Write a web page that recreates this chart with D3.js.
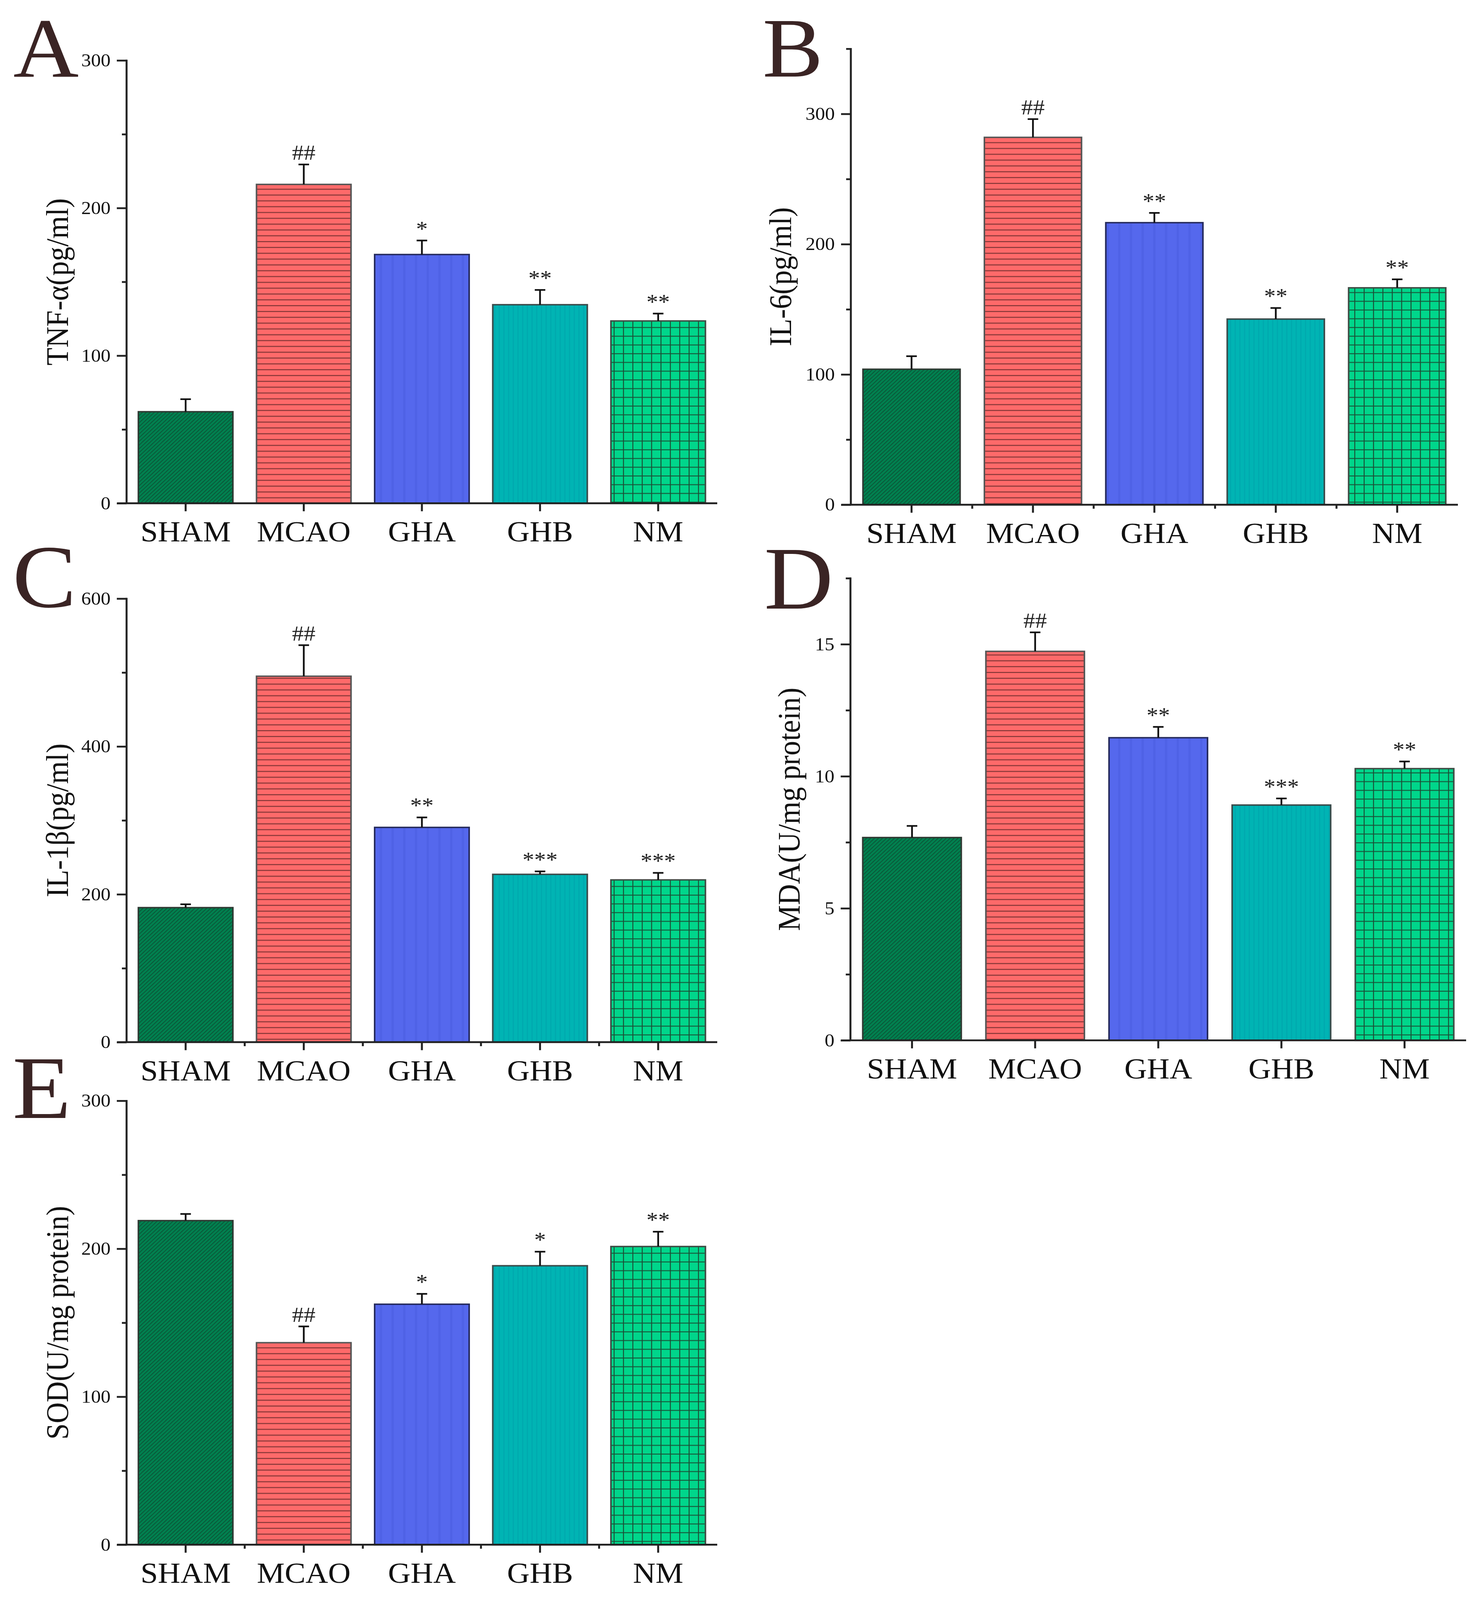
<!DOCTYPE html>
<html>
<head>
<meta charset="utf-8">
<script src="https://cdn.jsdelivr.net/npm/d3@7"></script>
<style>
  html, body { margin: 0; padding: 0; background: #fff; overflow: hidden; width: 100%; height: 100%; }
  svg { display: block; width: 100vw; height: 100vh; }
</style>
</head>
<body>
<svg id="chart" viewBox="0 0 3786 4397" preserveAspectRatio="none"></svg>
<script>
// ---------------- DATA ----------------
const categories = ["SHAM", "MCAO", "GHA", "GHB", "NM"];

const tnfMean = [62, 216, 168.5, 134.5, 123.5];
const tnfErr  = [8.5, 13.5, 9.5, 10, 5];
const tnfSig  = ["", "##", "*", "**", "**"];
const tnfTicks = [0, 100, 200, 300];
const tnfMinor = [50, 150, 250];

const il6Mean = [104, 282, 216.5, 142.5, 166.5];
const il6Err  = [10, 14, 7.5, 8.5, 6.5];
const il6Sig  = ["", "##", "**", "**", "**"];
const il6Ticks = [0, 100, 200, 300];
const il6Minor = [50, 150, 250, 350];

const il1bMean = [182, 495, 290.5, 227, 219.5];
const il1bErr  = [4.5, 42, 13.5, 4, 9.5];
const il1bSig  = ["", "##", "**", "***", "***"];
const il1bTicks = [0, 200, 400, 600];
const il1bMinor = [100, 300, 500];

const mdaMean = [7.68, 14.73, 11.46, 8.91, 10.29];
const mdaErr  = [0.44, 0.72, 0.41, 0.25, 0.27];
const mdaSig  = ["", "##", "**", "***", "**"];
const mdaTicks = [0, 5, 10, 15];
const mdaMinor = [2.5, 7.5, 12.5, 17.5];

const sodMean = [219, 136.5, 162.5, 188.5, 201.5];
const sodErr  = [4.5, 11, 7, 9.5, 10];
const sodSig  = ["", "##", "*", "*", "**"];
const sodTicks = [0, 100, 200, 300];
const sodMinor = [50, 150, 250];

// ---------------- LAYOUT ----------------
const panels = [
  {letter: "A", title: "TNF-α(pg/ml)", mean: tnfMean, err: tnfErr, sig: tnfSig, ticks: tnfTicks, minor: tnfMinor,
   ymax: 300, x0: 324, x1: 1836, y0: 1383, yTop: 166, titleOff: 150, lx: 34, ly: 210, lfs: 232, xMinor: false},
  {letter: "B", title: "IL-6(pg/ml)", mean: il6Mean, err: il6Err, sig: il6Sig, ticks: il6Ticks, minor: il6Minor,
   ymax: 350, x0: 2178, x1: 3732, y0: 1387, yTop: 134, titleOff: 153, lx: 1952, ly: 210, lfs: 232, xMinor: true},
  {letter: "C", title: "IL-1β(pg/ml)", mean: il1bMean, err: il1bErr, sig: il1bSig, ticks: il1bTicks, minor: il1bMinor,
   ymax: 600, x0: 324, x1: 1836, y0: 2864, yTop: 1645, titleOff: 150, lx: 32, ly: 1668, lfs: 245, xMinor: true},
  {letter: "D", title: "MDA(U/mg protein)", mean: mdaMean, err: mdaErr, sig: mdaSig, ticks: mdaTicks, minor: mdaMinor,
   ymax: 17.5, x0: 2177, x1: 3753, y0: 2859, yTop: 1589, titleOff: 130, lx: 1956, ly: 1672, lfs: 245, xMinor: false},
  {letter: "E", title: "SOD(U/mg protein)", mean: sodMean, err: sodErr, sig: sodSig, ticks: sodTicks, minor: sodMinor,
   ymax: 300, x0: 324, x1: 1836, y0: 4245, yTop: 3025, titleOff: 150, lx: 32, ly: 3072, lfs: 245, xMinor: true}
];

const FONT = "'Liberation Serif', 'Times New Roman', serif";
const svg = d3.select("#chart");

// ---------------- PATTERNS ----------------
const defs = svg.append("defs");
// SHAM: diagonal hatch
const pS = defs.append("pattern").attr("id", "pat0").attr("patternUnits", "userSpaceOnUse")
  .attr("width", 7.2).attr("height", 7.2).attr("patternTransform", "rotate(45)");
pS.append("rect").attr("width", 7.2).attr("height", 7.2).attr("fill", "#00804f");
pS.append("line").attr("x1", 0).attr("y1", 0).attr("x2", 0).attr("y2", 7.2)
  .attr("stroke", "#123e2a").attr("stroke-width", 2.6);
// MCAO: horizontal lines
const pM = defs.append("pattern").attr("id", "pat1").attr("patternUnits", "userSpaceOnUse")
  .attr("width", 20).attr("height", 16);
pM.append("rect").attr("width", 20).attr("height", 16).attr("fill", "#ff6a6a");
pM.append("line").attr("x1", 0).attr("y1", 8).attr("x2", 20).attr("y2", 8)
  .attr("stroke", "#7c3434").attr("stroke-width", 2.6);
// GHA: near-solid blue with faint stripes
const pA = defs.append("pattern").attr("id", "pat2").attr("patternUnits", "userSpaceOnUse")
  .attr("width", 30).attr("height", 20);
pA.append("rect").attr("width", 30).attr("height", 20).attr("fill", "#5568ed");
pA.append("line").attr("x1", 15).attr("y1", 0).attr("x2", 15).attr("y2", 20)
  .attr("stroke", "#4f62e6").attr("stroke-width", 6);
// GHB: teal with faint vertical stripes
const pB = defs.append("pattern").attr("id", "pat3").attr("patternUnits", "userSpaceOnUse")
  .attr("width", 12).attr("height", 20);
pB.append("rect").attr("width", 12).attr("height", 20).attr("fill", "#00b4b4");
pB.append("line").attr("x1", 6).attr("y1", 0).attr("x2", 6).attr("y2", 20)
  .attr("stroke", "#00a9ae").attr("stroke-width", 3);
// NM: grid
const pN = defs.append("pattern").attr("id", "pat4").attr("patternUnits", "userSpaceOnUse")
  .attr("width", 24).attr("height", 24);
pN.append("rect").attr("width", 24).attr("height", 24).attr("fill", "#00d68b");
pN.append("line").attr("x1", 12).attr("y1", 0).attr("x2", 12).attr("y2", 24)
  .attr("stroke", "#1b4f36").attr("stroke-width", 2.4);
pN.append("line").attr("x1", 0).attr("y1", 12).attr("x2", 24).attr("y2", 12)
  .attr("stroke", "#1b4f36").attr("stroke-width", 2.4);

const outline = ["#2f3a33", "#555555", "#252a5c", "#3a4a4a", "#3e4d45"];

// ---------------- DRAW ----------------
panels.forEach(p => {
  const g = svg.append("g");
  const x = d3.scaleBand().domain(categories).range([p.x0, p.x1]).paddingInner(0.2).paddingOuter(0.1);
  const y = d3.scaleLinear().domain([0, p.ymax]).range([p.y0, p.yTop]);

  const data = categories.map((c, i) => ({c, i, m: p.mean[i], e: p.err[i], s: p.sig[i]}));
  const cx = d => x(d.c) + x.bandwidth() / 2;

  // bars
  g.selectAll("rect.bar").data(data).enter().append("rect")
    .attr("class", "bar")
    .attr("x", d => x(d.c))
    .attr("y", d => y(d.m))
    .attr("width", x.bandwidth())
    .attr("height", d => y(0) - y(d.m))
    .attr("fill", d => `url(#pat${d.i})`)
    .attr("stroke", d => outline[d.i])
    .attr("stroke-width", 4);

  // error bars
  const cap = 27;
  g.selectAll("line.err").data(data).enter().append("line")
    .attr("x1", cx).attr("x2", cx)
    .attr("y1", d => y(d.m)).attr("y2", d => y(d.m + d.e))
    .attr("stroke", "#111").attr("stroke-width", 4.5);
  g.selectAll("line.cap").data(data).enter().append("line")
    .attr("x1", d => cx(d) - cap / 2).attr("x2", d => cx(d) + cap / 2)
    .attr("y1", d => y(d.m + d.e)).attr("y2", d => y(d.m + d.e))
    .attr("stroke", "#111").attr("stroke-width", 4.5);

  // significance marks
  g.selectAll("text.sig").data(data.filter(d => d.s)).enter().append("text")
    .attr("x", cx)
    .attr("y", d => y(d.m + d.e) - 13)
    .attr("text-anchor", "middle")
    .attr("font-family", FONT).attr("font-size", 60).attr("fill", "#222")
    .text(d => d.s);

  // y axis (major ticks with labels)
  const yAxis = d3.axisLeft(y).tickValues(p.ticks).tickSize(25).tickSizeOuter(0).tickPadding(16)
    .tickFormat(d3.format("d"));
  const ya = g.append("g").attr("transform", `translate(${p.x0},0)`).call(yAxis);
  ya.select(".domain").remove();
  ya.selectAll(".tick line").attr("stroke", "#222").attr("stroke-width", 5);
  ya.selectAll(".tick text").attr("font-family", FONT).attr("font-size", 50).attr("fill", "#111");
  // y minor ticks
  const yMinorAxis = d3.axisLeft(y).tickValues(p.minor).tickSize(12).tickSizeOuter(0).tickFormat("");
  const ym = g.append("g").attr("transform", `translate(${p.x0},0)`).call(yMinorAxis);
  ym.select(".domain").remove();
  ym.selectAll(".tick line").attr("stroke", "#222").attr("stroke-width", 5);
  // y domain line
  g.append("line").attr("x1", p.x0).attr("x2", p.x0).attr("y1", y(0)).attr("y2", y(p.ymax) - 2)
    .attr("stroke", "#222").attr("stroke-width", 5);

  // x axis
  const xAxis = d3.axisBottom(x).tickSize(22).tickSizeOuter(0).tickPadding(26);
  const xa = g.append("g").attr("transform", `translate(0,${p.y0})`).call(xAxis);
  xa.select(".domain").remove();
  xa.selectAll(".tick line").attr("stroke", "#222").attr("stroke-width", 5);
  xa.selectAll(".tick text").attr("font-family", FONT).attr("font-size", 80).attr("fill", "#111");
  if (p.xMinor) {
    const bounds = categories.slice(1).map(c => x(c) - x.step() * x.paddingInner() / 2);
    g.selectAll("line.xminor").data(bounds).enter().append("line")
      .attr("x1", d => d).attr("x2", d => d).attr("y1", p.y0).attr("y2", p.y0 + 11)
      .attr("stroke", "#222").attr("stroke-width", 5);
  }
  g.append("line").attr("x1", p.x0 - 24).attr("x2", p.x1).attr("y1", p.y0).attr("y2", p.y0)
    .attr("stroke", "#222").attr("stroke-width", 5);

  // y title
  const midY = (p.y0 + p.yTop) / 2;
  g.append("text")
    .attr("transform", `translate(${p.x0 - p.titleOff},${midY}) rotate(-90)`)
    .attr("text-anchor", "middle")
    .attr("font-family", FONT).attr("font-size", 80).attr("fill", "#111")
    .text(p.title);

  // panel letter
  g.append("text").attr("x", p.lx).attr("y", p.ly)
    .attr("font-family", FONT).attr("font-size", p.lfs).attr("fill", "#3a2424")
    .text(p.letter);
});
</script>
</body>
</html>
